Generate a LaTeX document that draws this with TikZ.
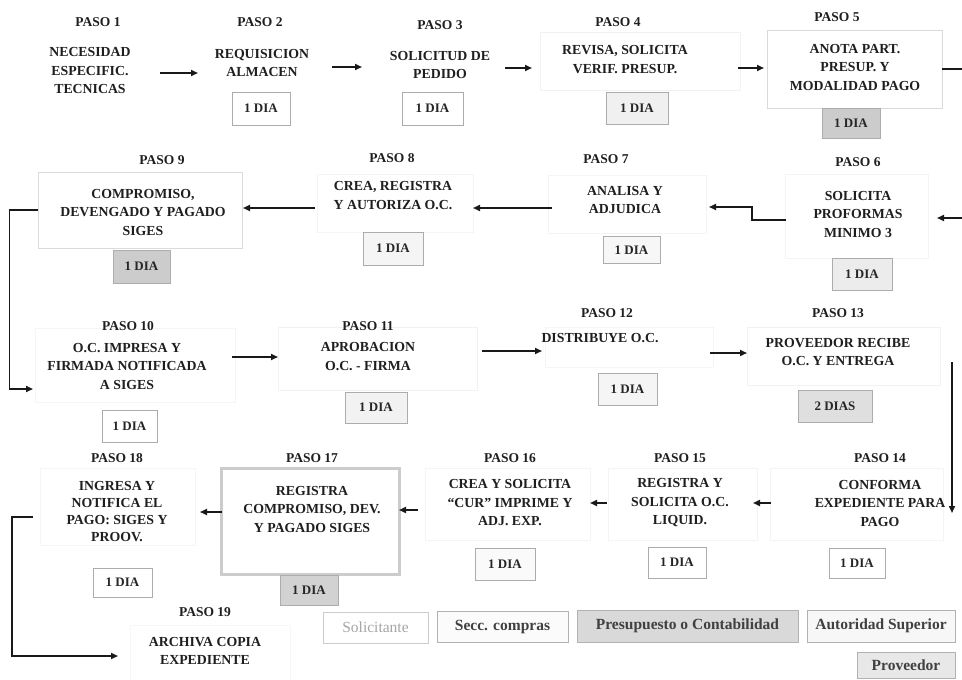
\documentclass[tikz,border=0pt]{standalone}
\usepackage{fontspec}
\setmainfont{Liberation Serif}
\usetikzlibrary{arrows.meta}
\begin{document}
\begin{tikzpicture}[x=1pt,y=-1pt,
  txt/.style={align=center,font=\fontsize{13.8}{18.5}\selectfont\bfseries,text=black!88,inner sep=0pt},
  lbl/.style={font=\fontsize{13.5}{15}\selectfont\bfseries,text=black!88,inner sep=0pt},
  fbox/.style={draw=#1,line width=0.8pt,inner sep=0pt},
  diabox/.style={draw=gray!65,line width=0.7pt,fill=#1,inner sep=0pt,minimum height=31pt,
     font=\fontsize{13}{14}\selectfont\bfseries,text=black!85},
  legbox/.style={draw=gray!60,line width=0.8pt,fill=#1,inner sep=0pt,minimum height=31pt,
     font=\fontsize{15.5}{17}\selectfont\bfseries,text=black!75},
  arr/.style={line width=1.7pt,draw=black!90,-{Triangle[length=7pt,width=6pt]}},
]
\fill[white] (0,0) rectangle (962,680);
\useasboundingbox (0,0) rectangle (962,680);

% ---------- faint step boxes ----------
\node[fbox=gray!10,minimum width=200pt,minimum height=58pt] (s4) at (640,61) {};
\node[fbox=gray!30,minimum width=175pt,minimum height=78pt] (s5) at (854.5,69) {};
\node[fbox=gray!9,minimum width=143pt,minimum height=84pt] (s6) at (856.5,216) {};
\node[fbox=gray!9,minimum width=158pt,minimum height=58pt] (s7) at (627,204) {};
\node[fbox=gray!9,minimum width=156pt,minimum height=58pt] (s8) at (395,203) {};
\node[fbox=gray!28,minimum width=204pt,minimum height=76pt] (s9) at (140,210) {};
\node[fbox=gray!8,minimum width=200pt,minimum height=74pt] (s10) at (135,365) {};
\node[fbox=gray!10,minimum width=199pt,minimum height=63pt] (s11) at (377.5,358.5) {};
\node[fbox=gray!8,minimum width=168pt,minimum height=40pt] (s12) at (629,347) {};
\node[fbox=gray!10,minimum width=193pt,minimum height=58pt] (s13) at (843.5,356) {};
\node[fbox=gray!9,minimum width=173pt,minimum height=72pt] (s14) at (856.5,504) {};
\node[fbox=gray!9,minimum width=149pt,minimum height=72pt] (s15) at (682.5,504) {};
\node[fbox=gray!9,minimum width=165pt,minimum height=72pt] (s16) at (507.5,504) {};
\node[draw=gray!40,line width=3pt,minimum width=178pt,minimum height=106pt,inner sep=0pt] (s17) at (310,521) {};
\node[fbox=gray!8,minimum width=155pt,minimum height=77pt] (s18) at (117.5,506.5) {};
\node[fbox=gray!7,minimum width=160pt,minimum height=55pt] (s19) at (210,652.5) {};

% ---------- labels ----------
\node[lbl] (p1) at (98,22) {PASO 1};
\node[lbl] (p2) at (260,22) {PASO 2};
\node[lbl] (p3) at (440,25) {PASO 3};
\node[lbl] (p4) at (618,22) {PASO 4};
\node[lbl] (p5) at (837,17) {PASO 5};
\node[lbl] (p6) at (858,162) {PASO 6};
\node[lbl] (p7) at (606,159) {PASO 7};
\node[lbl] (p8) at (392,158) {PASO 8};
\node[lbl] (p9) at (162,160) {PASO 9};
\node[lbl] (p10) at (128,326) {PASO 10};
\node[lbl] (p11) at (368,326) {PASO 11};
\node[lbl] (p12) at (607,313) {PASO 12};
\node[lbl] (p13) at (838,313) {PASO 13};
\node[lbl] (p14) at (880,458) {PASO 14};
\node[lbl] (p15) at (680,458) {PASO 15};
\node[lbl] (p16) at (510,458) {PASO 16};
\node[lbl] (p17) at (312,458) {PASO 17};
\node[lbl] (p18) at (117,458) {PASO 18};
\node[lbl] (p19) at (205,612) {PASO 19};

% ---------- texts ----------
\node[txt] (t1) at (90,70.5) {NECESIDAD\\ESPECIFIC.\\TECNICAS};
\node[txt] (t2) at (262,63) {REQUISICION\\ALMACEN};
\node[txt] (t3) at (440,65) {SOLICITUD DE\\PEDIDO};
\node[txt] (t4) at (625,59.5) {REVISA, SOLICITA\\VERIF. PRESUP.};
\node[txt] (t5) at (855,67) {ANOTA PART.\\PRESUP. Y\\MODALIDAD PAGO};
\node[txt] (t6) at (858,214) {SOLICITA\\PROFORMAS\\MINIMO 3};
\node[txt] (t7) at (625,200) {ANALISA Y\\ADJUDICA};
\node[txt] (t8) at (393,195.5) {CREA, REGISTRA\\Y AUTORIZA O.C.};
\node[txt] (t9) at (143,212) {COMPROMISO,\\DEVENGADO Y PAGADO\\SIGES};
\node[txt] (t10) at (127,366) {O.C. IMPRESA Y\\FIRMADA NOTIFICADA\\A SIGES};
\node[txt] (t11) at (368,356.5) {APROBACION\\O.C. - FIRMA};
\node[txt] (t12) at (600,338) {DISTRIBUYE O.C.};
\node[txt] (t13) at (838,352) {PROVEEDOR RECIBE\\O.C. Y ENTREGA};
\node[txt] (t14) at (880,503) {CONFORMA\\EXPEDIENTE PARA\\PAGO};
\node[txt] (t15) at (680,503) {REGISTRA Y\\SOLICITA O.C.\\LIQUID.};
\node[txt] (t16) at (510,503) {CREA Y SOLICITA\\``CUR'' IMPRIME Y\\ADJ. EXP.};
\node[txt] (t17) at (312,509) {REGISTRA\\COMPROMISO, DEV.\\Y PAGADO SIGES};
\node[txt,font=\fontsize{13.8}{17}\selectfont\bfseries] (t18) at (117,512) {INGRESA Y\\NOTIFICA EL\\PAGO: SIGES Y\\PROOV.};
\node[txt] (t19) at (205,651) {ARCHIVA COPIA\\EXPEDIENTE};

% ---------- duration boxes ----------
\node[diabox=white,minimum width=58pt,minimum height=33pt] (d2) at (261,108.5) {1 DIA};
\node[diabox=white,minimum width=61pt,minimum height=33pt] (d3) at (432.5,108.5) {1 DIA};
\node[diabox=gray!12,minimum width=62pt,minimum height=32pt] (d4) at (637,108) {1 DIA};
\node[diabox=gray!40,minimum width=58pt,minimum height=30pt] (d5) at (851,123) {1 DIA};
\node[diabox=gray!15,minimum width=60pt,minimum height=32pt] (d6) at (862,274) {1 DIA};
\node[diabox=gray!6,minimum width=57pt,minimum height=27pt] (d7) at (631.5,250) {1 DIA};
\node[diabox=gray!8,minimum width=60pt,minimum height=33pt] (d8) at (393,248.5) {1 DIA};
\node[diabox=gray!40,minimum width=57pt,minimum height=33pt] (d9) at (141.5,266.5) {1 DIA};
\node[diabox=white,minimum width=55pt,minimum height=32pt] (d10) at (129.5,426) {1 DIA};
\node[diabox=gray!10,minimum width=62pt,minimum height=31pt] (d11) at (376,407.5) {1 DIA};
\node[diabox=gray!8,minimum width=59pt,minimum height=32pt] (d12) at (627.5,389) {1 DIA};
\node[diabox=gray!25,minimum width=74pt,minimum height=32pt] (d13) at (835,406) {2 DIAS};
\node[diabox=white,minimum width=56pt,minimum height=30pt] (d14) at (857,563) {1 DIA};
\node[diabox=white,minimum width=58pt,minimum height=31pt] (d15) at (677,562.5) {1 DIA};
\node[diabox=gray!4,minimum width=60pt,minimum height=32pt] (d16) at (505,564) {1 DIA};
\node[diabox=gray!35,minimum width=58pt,minimum height=30pt] (d17) at (309,590) {1 DIA};
\node[diabox=white,minimum width=59pt,minimum height=29pt] (d18) at (122.5,582.5) {1 DIA};

% ---------- legend ----------
\node[legbox=white,draw=gray!40,minimum width=105pt,text=gray!70,font=\fontsize{15.5}{17}\selectfont] (l1) at (375.5,627.5) {Solicitante};
\node[legbox=gray!3,minimum width=131pt] (l2) at (502.5,627) {Secc. compras};
\node[legbox=gray!30,minimum width=221pt,minimum height=32pt] (l3) at (687.5,626) {Presupuesto o Contabilidad};
\node[legbox=gray!6,minimum width=148pt,minimum height=32pt] (l4) at (881,626) {Autoridad Superior};
\node[legbox=gray!18,minimum width=98pt,minimum height=26pt] (l5) at (906,665) {Proveedor};

% ---------- connector end points ----------
\coordinate (a1s) at (160,73);  \coordinate (a1e) at (198,73);
\coordinate (a2s) at (332,67);  \coordinate (a2e) at (362,67);
\coordinate (a3s) at (505,68);  \coordinate (a3e) at (532,68);
\coordinate (a4s) at (738,68);  \coordinate (a4e) at (764,68);
\coordinate (a5e) at (937,218);
\coordinate (a6s) at (786,220); \coordinate (a6e) at (709,207);
\coordinate (a7s) at (552,208); \coordinate (a7e) at (473,208);
\coordinate (a8s) at (315,208); \coordinate (a8e) at (243,208);
\coordinate (a9e) at (33,389);
\coordinate (a10s) at (232,357); \coordinate (a10e) at (278,357);
\coordinate (a11s) at (482,351); \coordinate (a11e) at (542,351);
\coordinate (a12s) at (710,353); \coordinate (a12e) at (747,353);
\coordinate (a13s) at (952,362); \coordinate (a13e) at (952,513);
\coordinate (a14s) at (771,503); \coordinate (a14e) at (753,503);
\coordinate (a15s) at (607,503); \coordinate (a15e) at (590,503);
\coordinate (a16s) at (418,510); \coordinate (a16e) at (399,510);
\coordinate (a17s) at (222,512); \coordinate (a17e) at (200,512);
\coordinate (a18s) at (33,517);  \coordinate (a18e) at (118,656);

% ---------- connectors ----------
\draw[arr] (a1s) -- (a1e);
\draw[arr] (a2s) -- (a2e);
\draw[arr] (a3s) -- (a3e);
\draw[arr] (a4s) -- (a4e);
\draw[arr] (s5.east) -- ++(28,0) |- (a5e);
\draw[arr] (a6s) -- ++(-34,0) |- (a6e);
\draw[arr] (a7s) -- (a7e);
\draw[arr] (a8s) -- (a8e);
\draw[arr] (s9.west) -- ++(-28,0) |- (a9e);
\draw[arr] (a10s) -- (a10e);
\draw[arr] (a11s) -- (a11e);
\draw[arr] (a12s) -- (a12e);
\draw[arr] (a13s) -- (a13e);
\draw[arr] (a14s) -- (a14e);
\draw[arr] (a15s) -- (a15e);
\draw[arr] (a16s) -- (a16e);
\draw[arr] (a17s) -- (a17e);
\draw[arr] (a18s) -- ++(-21,0) |- (a18e);
\end{tikzpicture}
\end{document}
